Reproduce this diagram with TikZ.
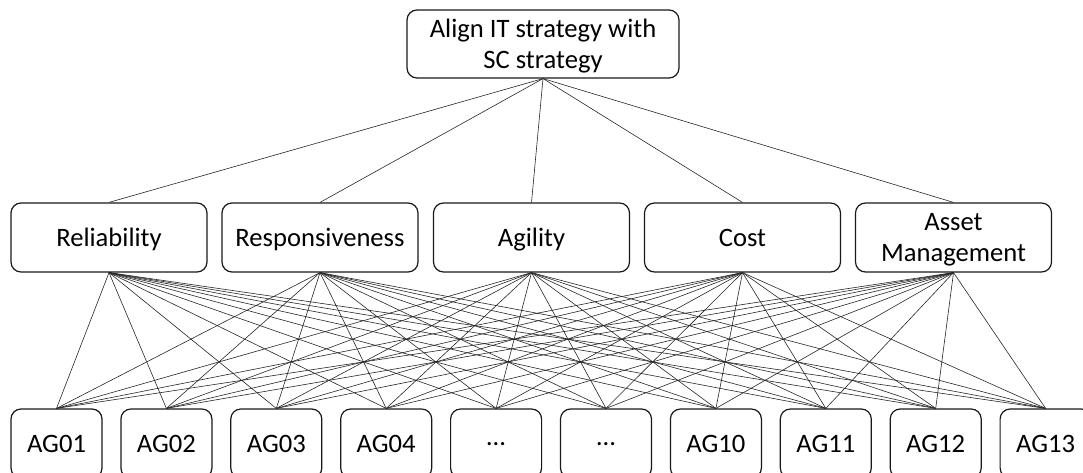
\documentclass[tikz,border=0pt]{standalone}
\usepackage{fontspec}
\setmainfont{Carlito}
\begin{document}
\begin{tikzpicture}[x=1pt,y=-1pt,
  box/.style={draw=black!90, line width=1.2pt, rounded corners=10pt, align=center,
    font=\fontsize{26.6}{30.5}\selectfont, inner sep=0pt, text depth=0pt},
  midbox/.style={box, minimum width=196pt, minimum height=69pt},
  agbox/.style={box, minimum width=91pt, minimum height=69pt},
  link/.style={line width=0.6pt, draw=black!85}]
\useasboundingbox (0,0) rectangle (1083,473);
\begin{scope}
\clip (0,0) rectangle (1083,473);
\node[box, minimum width=272pt, minimum height=68pt] (top) at (543,44) {Align IT strategy with\\SC strategy};
\node[midbox] (m1) at (109,237.5) {Reliability};
\node[midbox] (m2) at (320,237.5) {Responsiveness};
\node[midbox] (m3) at (531.5,237.5) {Agility};
\node[midbox] (m4) at (742.5,237.5) {Cost};
\node[midbox] (m5) at (953.5,237.5) {Asset\\Management};
\foreach \i/\t in {0/AG01,1/AG02,2/AG03,3/AG04,4/{\dots},5/{\dots},6/AG10,7/AG11,8/AG12,9/AG13}{
  \node[agbox] (b\i) at ({56.5+\i*109.9},443.5) {\t};
}
\foreach \m in {1,...,5}{
  \draw[link] (top.south) -- (m\m.north);
  \foreach \i in {0,...,9}{
    \draw[link] (m\m.south) -- (b\i.north);
  }
}
\end{scope}
\end{tikzpicture}
\end{document}
